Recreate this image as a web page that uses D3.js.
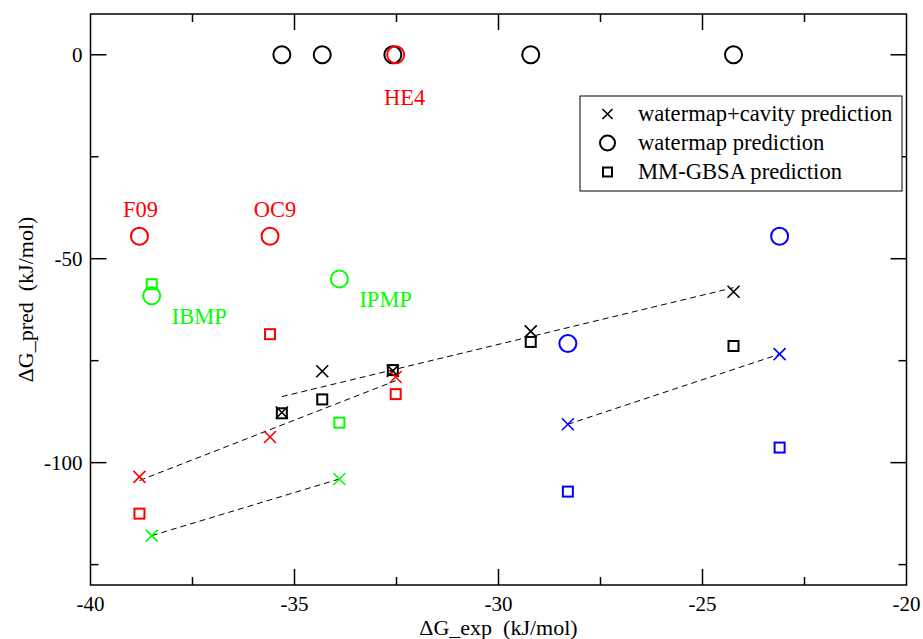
<!DOCTYPE html>
<html>
<head>
<meta charset="utf-8">
<script src="https://cdn.jsdelivr.net/npm/d3@7"></script>
<style>
  body { margin: 0; background: #fff; }
  svg text { font-family: "Liberation Serif", "Times New Roman", serif; }
</style>
</head>
<body>
<svg id="chart" width="923" height="639"></svg>
<script>
// Experimental vs predicted binding free energies (kJ/mol), one set per colour
const blackExp = [-35.31, -34.32, -32.59, -29.21, -24.24];
const blackCavity = [-87.7, -77.6, -77.5, -67.8, -58.1];
const blackWatermap = [0, 0, 0, 0, 0];
const blackGbsa = [-87.9, -84.5, -77.3, -70.4, -71.4];

const redExp = [-38.8, -35.6, -32.52];
const redCavity = [-103.5, -93.7, -79.0];
const redWatermap = [-44.5, -44.5, 0];
const redGbsa = [-112.5, -68.5, -83.2];
const redNames = ["F09", "OC9", "HE4"];

const greenExp = [-38.5, -33.9];
const greenCavity = [-117.9, -104.0];
const greenWatermap = [-59.1, -54.95];
const greenGbsa = [-56.25, -90.2];
const greenNames = ["IBMP", "IPMP"];

const blueExp = [-28.3, -23.11];
const blueCavity = [-90.6, -73.4];
const blueWatermap = [-70.8, -44.5];
const blueGbsa = [-107.1, -96.3];

const xTicks = [-40, -35, -30, -25, -20];
const yTicks = [0, -50, -100];
const legendLabels = ["watermap+cavity prediction", "watermap prediction", "MM-GBSA prediction"];

const groups = [
  { color: "#000", exp: blackExp, cavity: blackCavity, watermap: blackWatermap, gbsa: blackGbsa, names: [] },
  { color: "#ff0000", exp: redExp, cavity: redCavity, watermap: redWatermap, gbsa: redGbsa, names: redNames },
  { color: "#00ff00", exp: greenExp, cavity: greenCavity, watermap: greenWatermap, gbsa: greenGbsa, names: greenNames },
  { color: "#0000ff", exp: blueExp, cavity: blueCavity, watermap: blueWatermap, gbsa: blueGbsa, names: [] },
];

// label placement relative to the watermap circle (pixels)
const labelOffsets = {
  F09: { dx: 1, dy: -19, anchor: "middle" },
  OC9: { dx: 5, dy: -19, anchor: "middle" },
  HE4: { dx: 9, dy: 50, anchor: "middle" },
  IBMP: { dx: 20, dy: 28, anchor: "start" },
  IPMP: { dx: 20, dy: 28, anchor: "start" },
};

const svg = d3.select("#chart");
const margin = { left: 90.5, right: 16.5, top: 14, bottom: 54 };
const width = 923 - margin.left - margin.right;
const height = 639 - margin.top - margin.bottom;

const x = d3.scaleLinear().domain([-40, -20]).range([0, width]);
const y = d3.scaleLinear().domain([-130, 10]).range([height, 0]);

const g = svg.append("g").attr("transform", `translate(${margin.left},${margin.top})`);

// frame
g.append("rect")
  .attr("width", width)
  .attr("height", height)
  .attr("fill", "none")
  .attr("stroke", "#000")
  .attr("stroke-width", 1.5);

// inward ticks on all four sides
const majorLen = 16, minorLen = 8;
const xMinor = d3.range(-37.5, -20, 5);
const yMinor = [-25, -75, -125];

function tickLines(sel, vals, len, horizontal) {
  vals.forEach((v) => {
    if (horizontal) {
      sel.append("line").attr("x1", x(v)).attr("x2", x(v)).attr("y1", height).attr("y2", height - len);
      sel.append("line").attr("x1", x(v)).attr("x2", x(v)).attr("y1", 0).attr("y2", len);
    } else {
      sel.append("line").attr("y1", y(v)).attr("y2", y(v)).attr("x1", 0).attr("x2", len);
      sel.append("line").attr("y1", y(v)).attr("y2", y(v)).attr("x1", width).attr("x2", width - len);
    }
  });
}
const ticks = g.append("g").attr("stroke", "#000").attr("stroke-width", 1.5);
tickLines(ticks, xTicks.slice(1, -1), majorLen, true);
tickLines(ticks, xMinor, minorLen, true);
tickLines(ticks, yTicks, majorLen, false);
tickLines(ticks, yMinor, minorLen, false);

// tick labels
g.append("g")
  .selectAll("text")
  .data(xTicks)
  .join("text")
  .attr("x", (d) => x(d))
  .attr("y", height + 26)
  .attr("text-anchor", "middle")
  .attr("font-size", 21)
  .text((d) => d);

g.append("g")
  .selectAll("text")
  .data(yTicks)
  .join("text")
  .attr("x", -8)
  .attr("y", (d) => y(d) + 7)
  .attr("text-anchor", "end")
  .attr("font-size", 21)
  .text((d) => d);

// axis titles
g.append("text")
  .attr("x", width / 2)
  .attr("y", height + 50)
  .attr("text-anchor", "middle")
  .attr("font-size", 22)
  .attr("xml:space", "preserve")
  .text("\u0394G_exp  (kJ/mol)");

g.append("text")
  .attr("transform", `translate(${-58},${height / 2}) rotate(-90)`)
  .attr("text-anchor", "middle")
  .attr("font-size", 22)
  .attr("xml:space", "preserve")
  .text("\u0394G_pred  (kJ/mol)");

// symbol helpers
function drawCross(sel, cx, cy, s, color) {
  sel.append("path")
    .attr("d", `M${cx - s},${cy - s}L${cx + s},${cy + s}M${cx - s},${cy + s}L${cx + s},${cy - s}`)
    .attr("stroke", color)
    .attr("stroke-width", 1.6)
    .attr("fill", "none");
}
function drawCircle(sel, cx, cy, r, color) {
  sel.append("circle")
    .attr("cx", cx).attr("cy", cy).attr("r", r)
    .attr("stroke", color).attr("stroke-width", 2).attr("fill", "none");
}
function drawSquare(sel, cx, cy, s, color) {
  sel.append("rect")
    .attr("x", cx - s).attr("y", cy - s).attr("width", 2 * s).attr("height", 2 * s)
    .attr("stroke", color).attr("stroke-width", 2).attr("fill", "none");
}

// regression lines for the cavity predictions
const lines = g.append("g");
groups.forEach((grp) => {
  const n = grp.exp.length;
  const mx = d3.mean(grp.exp), my = d3.mean(grp.cavity);
  let sxy = 0, sxx = 0;
  for (let i = 0; i < n; i++) {
    sxy += (grp.exp[i] - mx) * (grp.cavity[i] - my);
    sxx += (grp.exp[i] - mx) ** 2;
  }
  const slope = sxy / sxx;
  const [x0, x1] = d3.extent(grp.exp);
  lines.append("line")
    .attr("x1", x(x0)).attr("y1", y(my + slope * (x0 - mx)))
    .attr("x2", x(x1)).attr("y2", y(my + slope * (x1 - mx)))
    .attr("stroke", "#000")
    .attr("stroke-width", 1)
    .attr("stroke-dasharray", "6,4");
});

// markers
const marks = g.append("g");
groups.forEach((grp) => {
  grp.exp.forEach((e, i) => {
    drawCross(marks, x(e), y(grp.cavity[i]), 6, grp.color);
    drawCircle(marks, x(e), y(grp.watermap[i]), 8.5, grp.color);
    drawSquare(marks, x(e), y(grp.gbsa[i]), 5, grp.color);
  });
  grp.names.forEach((name, i) => {
    const o = labelOffsets[name];
    marks.append("text")
      .attr("x", x(grp.exp[i]) + o.dx)
      .attr("y", y(grp.watermap[i]) + o.dy)
      .attr("text-anchor", o.anchor)
      .attr("font-size", 22.5)
      .attr("fill", grp.color)
      .text(name);
  });
});

// legend
const legend = svg.append("g").attr("transform", "translate(580,96)");
legend.append("rect")
  .attr("width", 322).attr("height", 95)
  .attr("fill", "#fff").attr("stroke", "#000").attr("stroke-width", 1);
legendLabels.forEach((label, i) => {
  const cy = 18 + i * 29;
  if (i === 0) drawCross(legend, 27.5, cy, 5, "#000");
  if (i === 1) drawCircle(legend, 27.5, cy, 7.5, "#000");
  if (i === 2) drawSquare(legend, 27.5, cy, 4.5, "#000");
  legend.append("text")
    .attr("x", 58).attr("y", cy + 7)
    .attr("font-size", 22.6)
    .text(label);
});
</script>
</body>
</html>
